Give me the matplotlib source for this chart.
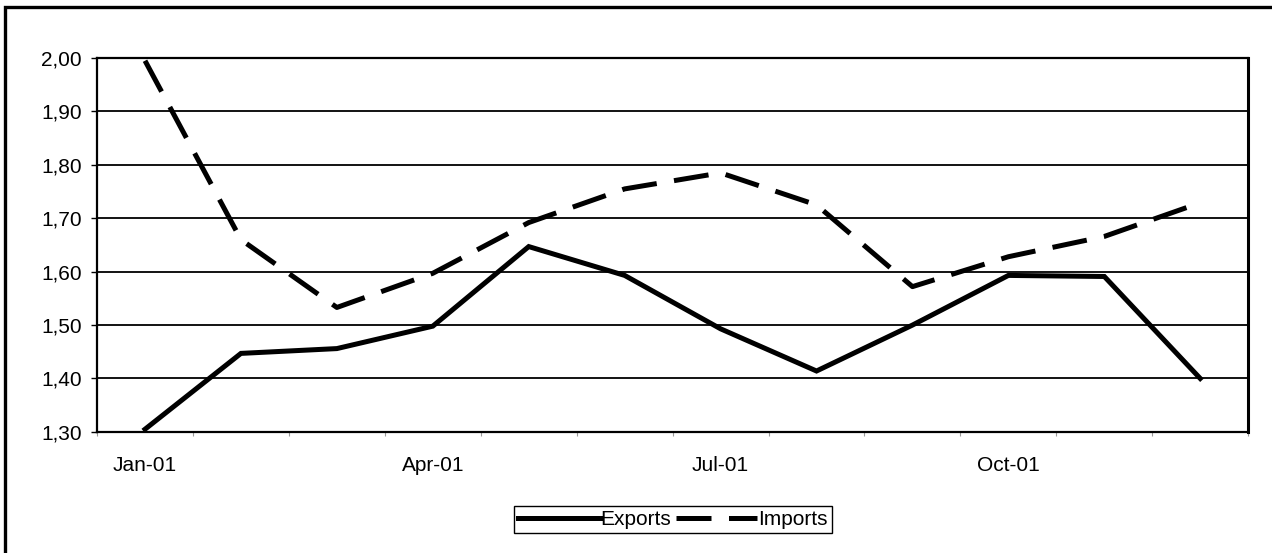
# -*- coding: utf-8 -*-
# monthly exports / imports, 2001
import matplotlib
matplotlib.use('Agg')
import matplotlib.pyplot as plt
from matplotlib.ticker import FuncFormatter, FixedLocator
from matplotlib.patches import Rectangle

months = ['Jan-01', 'Feb-01', 'Mar-01', 'Apr-01', 'May-01', 'Jun-01',
          'Jul-01', 'Aug-01', 'Sep-01', 'Oct-01', 'Nov-01', 'Dec-01']
exports = [1.305, 1.447, 1.456, 1.498, 1.647, 1.593, 1.493, 1.414, 1.500, 1.593, 1.591, 1.400]
imports = [1.995, 1.660, 1.533, 1.597, 1.692, 1.755, 1.785, 1.725, 1.572, 1.628, 1.666, 1.729]
shown_months = ['Jan-01', 'Apr-01', 'Jul-01', 'Oct-01']

plt.rcParams['font.family'] = 'Liberation Sans'
plt.rcParams['font.size'] = 15

fig = plt.figure(figsize=(12.72, 5.53), dpi=100)
ax = fig.add_axes([0.0763, 0.219, 0.905, 0.676])

x = list(range(len(months)))
ax.plot(x, exports, color='black', lw=3.6, solid_joinstyle='miter', label='Exports')
ax.plot(x, imports, color='black', lw=3.6, dashes=(7, 3.5), label='Imports')

ax.set_xlim(-0.5, len(months) - 0.5)
ax.set_ylim(1.30, 2.00)
ax.set_yticks([1.30 + 0.1 * i for i in range(8)])
ax.yaxis.set_major_formatter(FuncFormatter(lambda v, p: ('%.2f' % v).replace('.', ',')))
ax.yaxis.grid(True, color='black', lw=1.3)
ax.set_axisbelow(True)

# category boundaries get the tick marks, labels sit at the centres
ax.xaxis.set_major_locator(FixedLocator([i - 0.5 for i in range(len(months) + 1)]))
ax.xaxis.set_major_formatter(FuncFormatter(lambda v, p: ''))
ax.xaxis.set_minor_locator(FixedLocator([months.index(m) for m in shown_months]))
ax.set_xticklabels(shown_months, minor=True)
ax.tick_params(axis='x', which='major', length=3, width=0.8, color='#999999')
ax.tick_params(axis='x', which='minor', length=0, pad=17)
ax.tick_params(axis='y', length=4, width=1, pad=7)

for s in ['top', 'right', 'left', 'bottom']:
    ax.spines[s].set_linewidth(1.6)
ax.spines['right'].set_linewidth(2.2)

leg = fig.legend(loc='center', bbox_to_anchor=(0.529, 0.060), ncol=2, frameon=True,
                 fancybox=False, edgecolor='black', framealpha=1,
                 handlelength=3.9, handletextpad=0.05, columnspacing=0.2,
                 borderpad=0.2, borderaxespad=0, fontsize=15)
leg.get_frame().set_linewidth(1.0)

# outer chart frame
fig.patches.append(Rectangle((5 / 1272, -0.05), 1.1, 1 - 7 / 553 + 0.05,
                             transform=fig.transFigure, fill=False,
                             edgecolor='black', lw=2.4))

fig.savefig('out.png', dpi=100)
